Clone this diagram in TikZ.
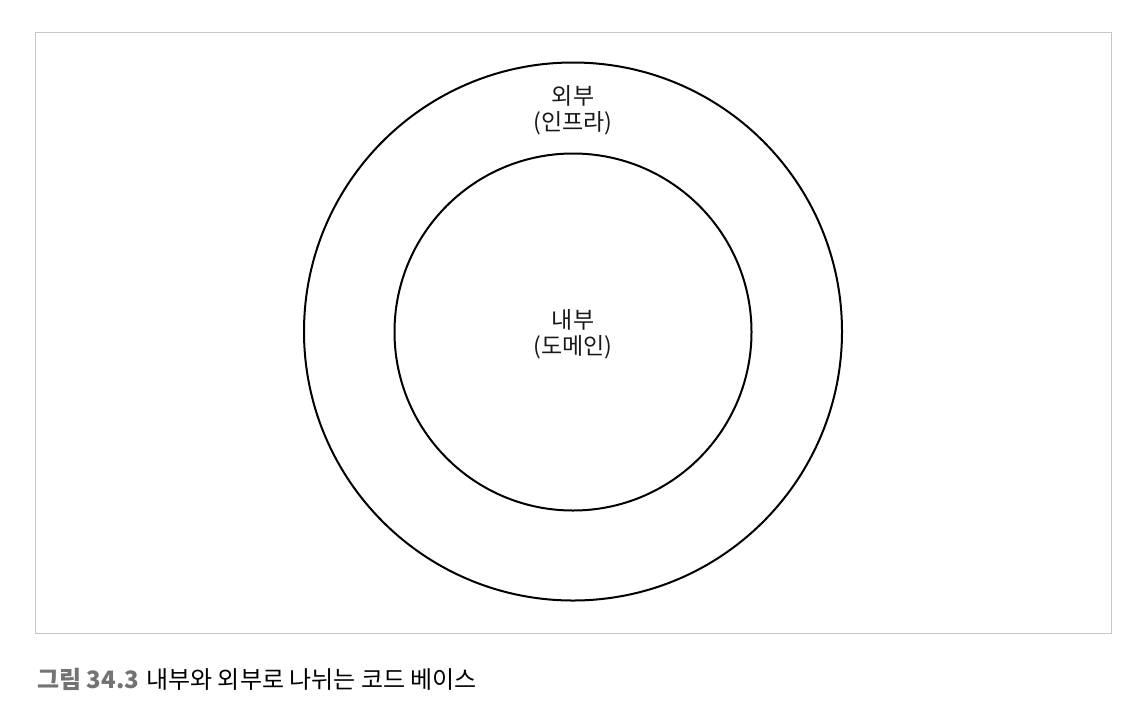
\documentclass[tikz,border=0pt]{standalone}
\usepackage{fontspec}
\newfontfamily\kr{Noto Sans CJK KR}
\tikzset{
  ring/.style={draw=black, line width=2pt, circle},
  lbl/.style={font=\kr\fontsize{23}{26}\selectfont, align=center, text=black!90},
}
\begin{document}
\begin{tikzpicture}[x=1pt,y=-1pt]
\useasboundingbox (0,0) rectangle (1132,724);
\draw[draw=black!22, line width=1.2pt] (35.5,32.5) rectangle (1111.5,633.5);
\node[ring, minimum size=538pt, inner sep=0pt] (outer) at (573,331.5) {};
\node[ring, minimum size=357pt, inner sep=0pt] (inner) at (573,332) {};
\node[lbl] (outerlbl) at (573,110) {외부\\(인프라)};
\node[lbl] (innerlbl) at (573,334) {내부\\(도메인)};
\node[anchor=west, inner sep=0pt, font=\fontsize{24}{28}\selectfont] (cap) at (37,679)
  {\textcolor{black!55}{\kr\bfseries 그림 34.3} {\kr 내부와 외부로 나뉘는 코드 베이스}};
\end{tikzpicture}
\end{document}
